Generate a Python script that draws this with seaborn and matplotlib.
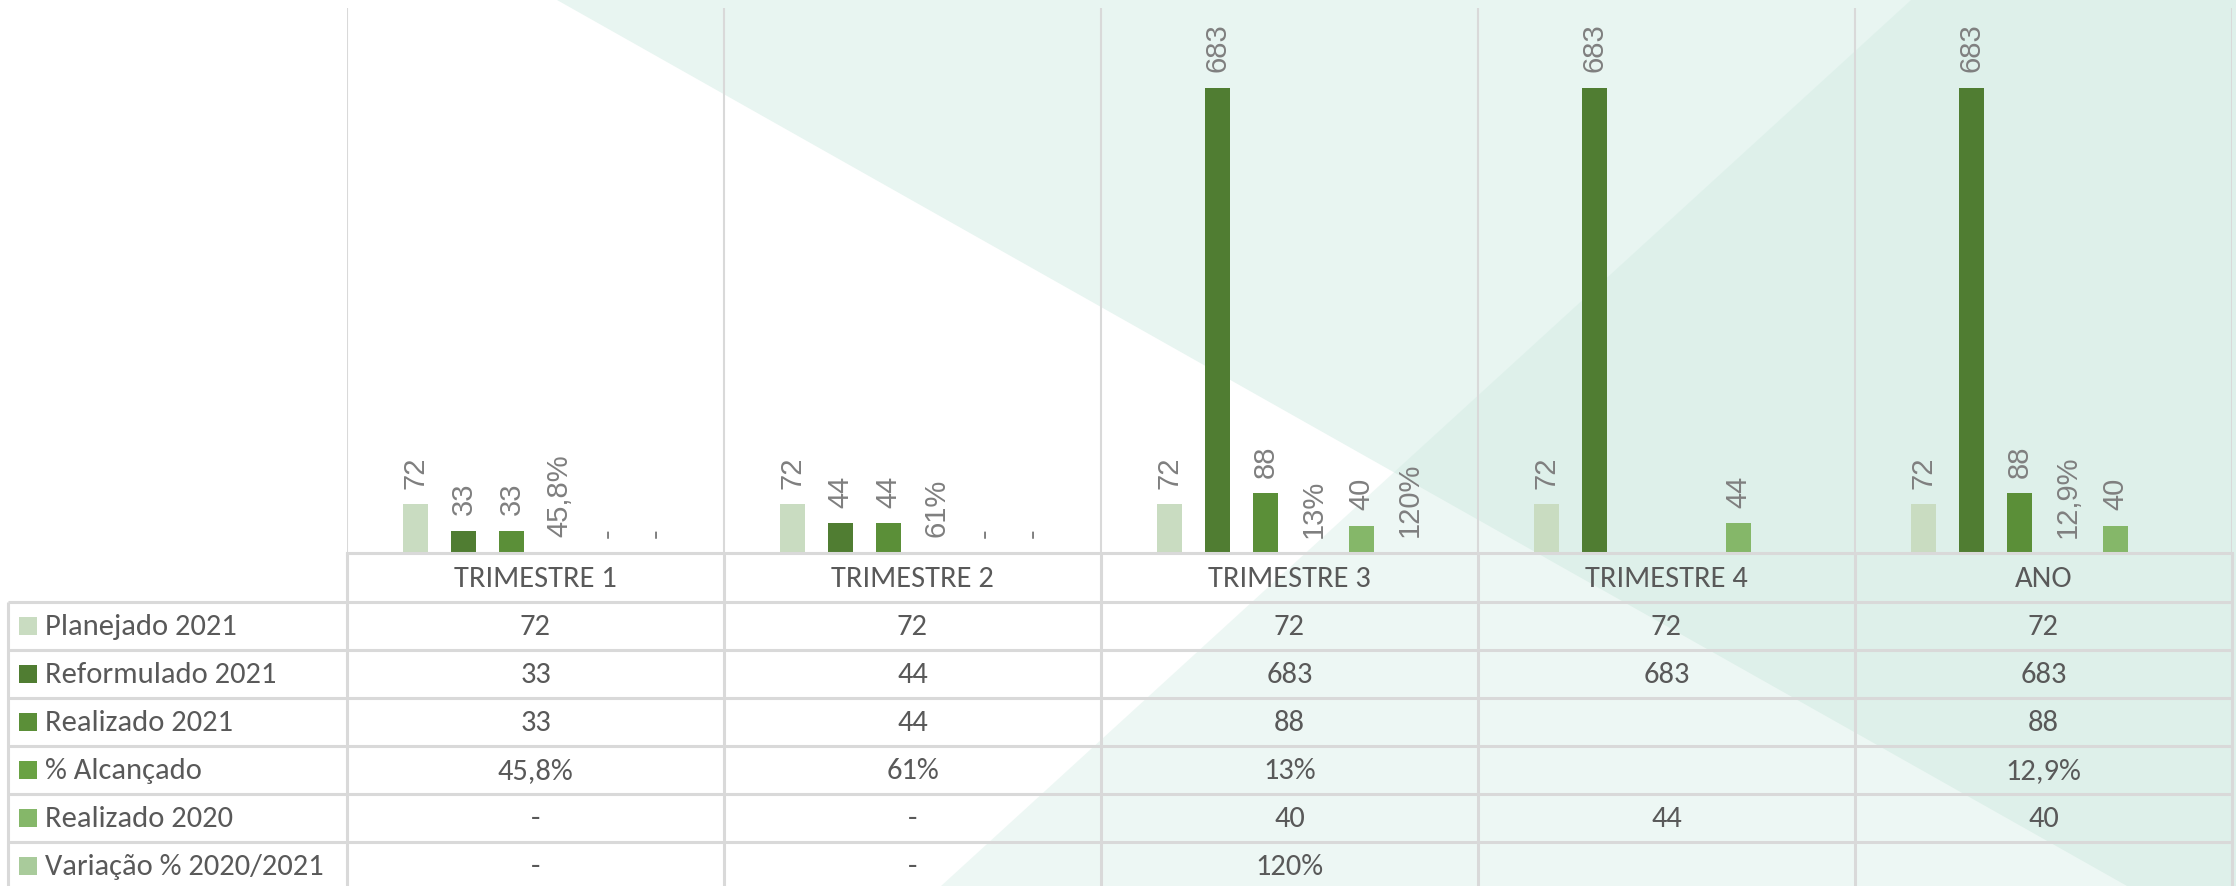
import numpy as np
import pandas as pd
import matplotlib
matplotlib.use("Agg")
import matplotlib.pyplot as plt
from matplotlib import font_manager
from matplotlib.patches import Polygon, Rectangle
import seaborn as sns

# ---------------- data ----------------
categorias = ["TRIMESTRE 1", "TRIMESTRE 2", "TRIMESTRE 3", "TRIMESTRE 4", "ANO"]
series = ["Planejado 2021", "Reformulado 2021", "Realizado 2021",
          "% Alcançado", "Realizado 2020", "Variação % 2020/2021"]

planejado_2021 = [72, 72, 72, 72, 72]
reformulado_2021 = [33, 44, 683, 683, 683]
realizado_2021 = [33, 44, 88, np.nan, 88]
alcancado = [0.458, 0.61, 0.13, np.nan, 0.129]
realizado_2020 = [0, 0, 40, 44, 40]
variacao = [0, 0, 1.20, np.nan, np.nan]

alcancado_txt = ["45,8%", "61%", "13%", "", "12,9%"]
variacao_txt = ["-", "-", "120%", "", ""]

cores = ["#C9DCC1", "#507D32", "#5B8F38", "#6AA244", "#85B769", "#A9CB9B"]


def fmt_num(v):
    if v is None or (isinstance(v, float) and np.isnan(v)):
        return ""
    if v == 0:
        return "-"
    return f"{v:.0f}"


valores = [planejado_2021, reformulado_2021, realizado_2021, alcancado, realizado_2020, variacao]
textos = [
    [fmt_num(v) for v in planejado_2021],
    [fmt_num(v) for v in reformulado_2021],
    [fmt_num(v) for v in realizado_2021],
    alcancado_txt,
    [fmt_num(v) for v in realizado_2020],
    variacao_txt,
]

rows = []
for s, vals in zip(series, valores):
    for c, v in zip(categorias, vals):
        rows.append({"categoria": c, "serie": s, "valor": v})
df = pd.DataFrame(rows)


# ---------------- fonts ----------------
def pick(*names):
    avail = {f.name for f in font_manager.fontManager.ttflist}
    for n in names:
        if n in avail:
            return n
    return "DejaVu Sans"


FONT_TAB = pick("Carlito", "Lato", "Liberation Sans", "Open Sans")
FONT_LBL = pick("Liberation Sans", "Open Sans", "DejaVu Sans")

sns.set_theme(style="white")
plt.rcParams["font.family"] = [FONT_TAB, "DejaVu Sans"]

W, H = 2236, 886
fig = plt.figure(figsize=(W / 100, H / 100), dpi=100)

# ---------------- decorative background ----------------
bg = fig.add_axes([0, 0, 1, 1], zorder=0)
bg.set_xlim(0, W)
bg.set_ylim(H, 0)
bg.axis("off")
bg.add_patch(Polygon([(557, 0), (W, 0), (W, H), (2127, H)], closed=True,
                     facecolor="#E8F5F1", edgecolor="none"))
bg.add_patch(Polygon([(1911, 0), (W, 0), (W, H), (941, H)], closed=True,
                     facecolor=(202 / 255, 232 / 255, 222 / 255), alpha=0.32, edgecolor="none"))

# ---------------- layout ----------------
X0, X1 = 347, 2232   # plot / table columns
Y_TOP, Y_BASE = 8, 553
ROW_TOP = 602
ROW_H = 48
GRID = "#D9D9D9"
TXT = "#595959"
LBL = "#7F7F7F"

ax = fig.add_axes([X0 / W, (H - Y_BASE) / H, (X1 - X0) / W, (Y_BASE - Y_TOP) / H], zorder=2)
ax.set_facecolor("none")

n = len(series)
group_w = 0.764
sns.barplot(data=df, x="categoria", y="valor", hue="serie", order=categorias,
            hue_order=series, palette=cores, saturation=1, width=group_w, gap=0.48,
            errorbar=None, linewidth=0, legend=False, ax=ax)

ax.set_xlim(-0.5, len(categorias) - 0.5)
ax.set_ylim(0, 800)
ax.set_xticks(np.arange(-0.5, len(categorias)), minor=True)
ax.grid(which="minor", axis="x", color=GRID, linewidth=1.5)
ax.grid(which="major", visible=False)
ax.set_xticks([])
ax.set_yticks([])
ax.set_xlabel("")
ax.set_ylabel("")
for sp in ["top", "left", "right"]:
    ax.spines[sp].set_visible(False)
ax.spines["bottom"].set_color(GRID)
ax.spines["bottom"].set_linewidth(2.2)

# data labels
step = group_w / n
for cont in ax.containers:
    labs = []
    for p in cont.patches:
        cx = p.get_x() + p.get_width() / 2
        ci = int(round(cx))
        si = int(round((cx - ci) / step + (n - 1) / 2))
        si = min(max(si, 0), n - 1)
        labs.append(textos[si][ci])
    ax.bar_label(cont, labels=labs, rotation=90, padding=11, color=LBL,
                 fontsize=21, family=FONT_LBL)

# ---------------- data table ----------------
tab = fig.add_axes([0, 0, 1, (H - Y_BASE) / H], zorder=1)
tab.set_facecolor("none")
tab.set_xlim(0, W)
tab.set_ylim(H, Y_BASE)
tab.axis("off")

ncat = len(categorias)
col_w = (X1 - X0) / ncat
y_bottom = ROW_TOP + ROW_H * len(series)
lw = 2.2
for k in range(ncat + 1):
    x = X0 + k * col_w
    tab.plot([x, x], [Y_BASE, y_bottom + 5], color=GRID, lw=lw, solid_capstyle="butt")
tab.plot([8, 8], [ROW_TOP, y_bottom + 5], color=GRID, lw=lw, solid_capstyle="butt")
for r in range(len(series) + 1):
    y = ROW_TOP + r * ROW_H
    tab.plot([8, X1], [y, y], color=GRID, lw=lw, solid_capstyle="butt")

FS = 22
for k, c in enumerate(categorias):
    tab.text(X0 + (k + 0.5) * col_w, (Y_BASE + ROW_TOP) / 2 + 1, c, ha="center", va="center",
             color=TXT, fontsize=FS)

for r, s in enumerate(series):
    yc = ROW_TOP + (r + 0.5) * ROW_H
    tab.add_patch(Rectangle((19, yc - 9), 18, 18, facecolor=cores[r], edgecolor="none"))
    tab.text(45, yc + 1, s, ha="left", va="center", color=TXT, fontsize=FS)
    for k in range(ncat):
        tab.text(X0 + (k + 0.5) * col_w, yc + 1, textos[r][k], ha="center", va="center",
                 color=TXT, fontsize=FS)

fig.savefig("out.png", dpi=100)
